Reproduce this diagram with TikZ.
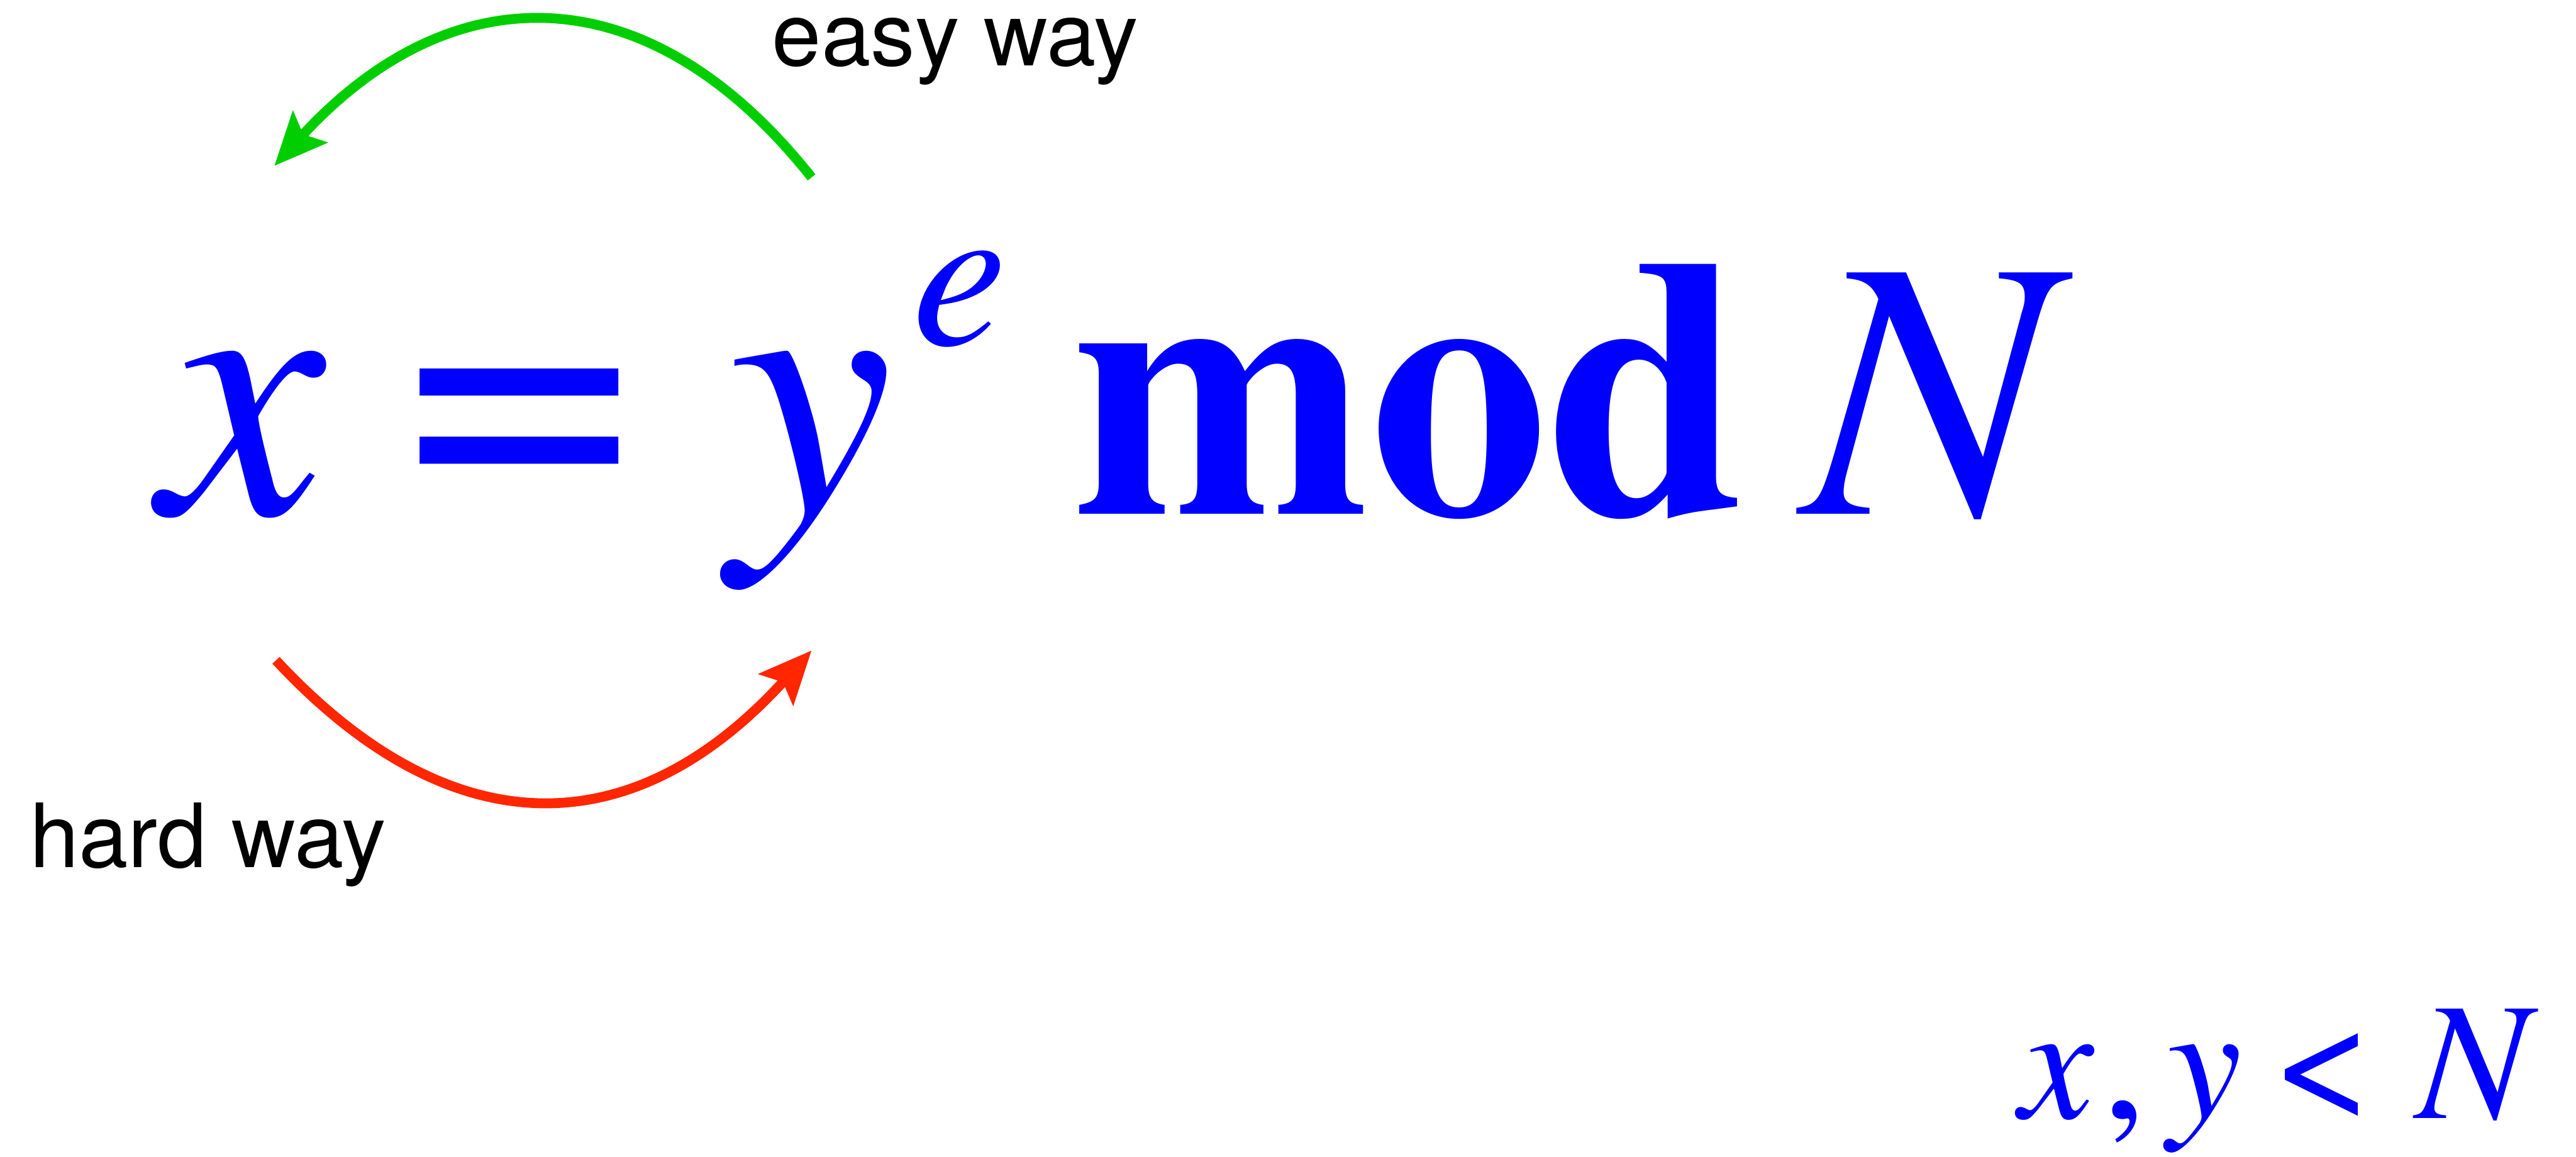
\documentclass[tikz,border=0pt]{standalone}
\usepackage{fontspec}
\setmainfont{texgyretermes-regular.otf}[ItalicFont=texgyretermes-italic.otf, BoldFont=texgyretermes-bold.otf, BoldItalicFont=texgyretermes-bolditalic.otf]
\newfontfamily\labelfont{TeX Gyre Heros}
\usetikzlibrary{arrows.meta}
\definecolor{eqblue}{RGB}{0,0,255}
\definecolor{easygreen}{RGB}{0,206,0}
\definecolor{hardred}{RGB}{255,38,0}
\begin{document}
\begin{tikzpicture}[x=1pt,y=-1pt,
  glyph/.style={inner sep=0pt, outer sep=0pt, anchor=base, text=eqblue},
  bigrm/.style={glyph, font=\fontsize{225}{225}\selectfont},
  eqsign/.style={glyph, font=\fontsize{250}{250}\selectfont},
  bigit/.style={glyph, font=\fontsize{225}{225}\selectfont\itshape},
  bigbf/.style={glyph, font=\fontsize{225}{225}\selectfont\bfseries},
  supit/.style={glyph, font=\fontsize{130}{130}\selectfont\itshape},
  smallit/.style={glyph, font=\fontsize{102}{102}\selectfont\itshape},
  smallrm/.style={glyph, font=\fontsize{106}{106}\selectfont},
  lbl/.style={inner sep=0pt, outer sep=0pt, anchor=base west, text=black, font=\labelfont\fontsize{54}{54}\selectfont},
  easyarrow/.style={draw=easygreen, line width=6pt, -{Stealth[length=32pt, width=28pt, inset=6pt]}, fill=none},
  hardarrow/.style={draw=hardred, line width=6pt, -{Stealth[length=32pt, width=28pt, inset=6pt]}, fill=none}]
\useasboundingbox (0,0) rectangle (1568,704);
% main equation
\node[bigit] (x) at (148,313) {x};
\node[eqsign] (eq) at (316,316) {=};
\node[bigit] (y) at (494,313) {y};
\node[supit] (e) at (584,210) {e};
\node[bigbf] (mod) at (858,313) {\scalebox{0.962}[1]{mod}};
\node[bigit] (N) at (1173,313) {N};
% condition
\node[smallit] (cx) at (1252,681) {x};
\node[smallrm] (comma) at (1293,681) {,};
\node[smallit] (cy) at (1342,681) {y};
\node[smallrm] (lt) at (1414,681) {<};
\node[smallit] (cN) at (1505,681) {N};
% labels
\node[lbl] (easy) at (470,40) {easy way};
\node[lbl] (hard) at (18,528) {hard way};
% arrows
\coordinate (gtail) at (494,108);
\coordinate (gtip) at (167,101);
\coordinate (rtail) at (168,402);
\coordinate (rtip) at (494,396);
\draw[easyarrow] (gtail) .. controls (395,-17) and (275,-17) .. (gtip);
\draw[hardarrow] (rtail) .. controls (274,516) and (385,516) .. (rtip);
\end{tikzpicture}
\end{document}
